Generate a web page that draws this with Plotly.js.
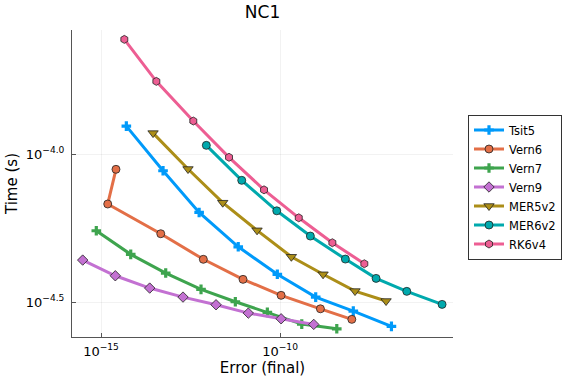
<!DOCTYPE html>
<html>
<head>
<meta charset="utf-8">
<script src="https://cdn.plot.ly/plotly-3.0.1.min.js"></script>
<style>html,body{margin:0;padding:0;background:#fff;}#chart{width:576px;height:384px;}</style>
</head>
<body>
<div id="chart"></div>
<script>
// Series names
const seriesNames = ["Tsit5", "Vern6", "Vern7", "Vern9", "MER5v2", "MER6v2", "RK6v4"];

// Error (final) values per series
const errTsit5  = [5.1e-15, 5.4e-14, 5.5e-13, 6.8e-12, 8.4e-11, 9.9e-10, 1.11e-8, 1.29e-7];
const errVern6  = [2.62e-15, 1.54e-15, 4.66e-14, 7.21e-13, 9.25e-12, 1.07e-10, 1.34e-9, 1.01e-8];
const errVern7  = [7.39e-16, 6.76e-15, 6.41e-14, 6.21e-13, 5.64e-12, 4.42e-11, 4.04e-10, 3.84e-9];
const errVern9  = [3.08e-16, 2.51e-15, 2.29e-14, 1.95e-13, 1.63e-12, 1.30e-11, 1.07e-10, 8.73e-10];
const errMER5v2 = [2.84e-14, 2.69e-13, 2.51e-12, 2.28e-11, 2.07e-10, 1.59e-9, 1.24e-8, 9.14e-8];
const errMER6v2 = [8.73e-13, 8.51e-12, 8.09e-11, 7.02e-10, 6.67e-9, 4.81e-8, 3.46e-7, 3.35e-6];
const errRK6v4  = [4.48e-15, 3.51e-14, 3.78e-13, 3.76e-12, 3.57e-11, 3.33e-10, 2.89e-9, 2.26e-8];

// Time (s) values per series
const timeTsit5  = [1.243e-4, 8.78e-5, 6.35e-5, 4.86e-5, 3.925e-5, 3.287e-5, 2.948e-5, 2.617e-5];
const timeVern6  = [8.88e-5, 6.78e-5, 5.38e-5, 4.41e-5, 3.773e-5, 3.332e-5, 3.001e-5, 2.764e-5];
const timeVern7  = [5.506e-5, 4.583e-5, 3.963e-5, 3.49e-5, 3.17e-5, 2.918e-5, 2.664e-5, 2.569e-5];
const timeVern9  = [4.384e-5, 3.88e-5, 3.526e-5, 3.287e-5, 3.097e-5, 2.902e-5, 2.777e-5, 2.658e-5];
const timeMER5v2 = [1.177e-4, 8.90e-5, 6.85e-5, 5.525e-5, 4.498e-5, 3.925e-5, 3.445e-5, 3.188e-5];
const timeMER6v2 = [1.07e-4, 8.15e-5, 6.43e-5, 5.284e-5, 4.418e-5, 3.802e-5, 3.437e-5, 3.106e-5];
const timeRK6v4  = [2.44e-4, 1.76e-4, 1.293e-4, 9.75e-5, 7.57e-5, 6.09e-5, 5.017e-5, 4.26e-5];

// Tick values / labels
const xTickVals = [1e-15, 1e-10];
const xTickText = ["10<sup>−15</sup>", "10<sup>−10</sup>"];
const yTickVals = [1e-4, Math.pow(10, -4.5)];
const yTickText = ["10<sup>−4.0</sup>", "10<sup>−4.5</sup>"];

const errs = [errTsit5, errVern6, errVern7, errVern9, errMER5v2, errMER6v2, errRK6v4];
const times = [timeTsit5, timeVern6, timeVern7, timeVern9, timeMER5v2, timeMER6v2, timeRK6v4];
const colors = ["#009AFA", "#E36F47", "#3EA44E", "#C371D2", "#AC8E18", "#00A9AD", "#ED5E93"];
const symbols = ["cross", "circle", "cross", "diamond", "triangle-down", "circle", "hexagon"];
const msize = [8, 8, 8, 8, 9, 8, 8];

const traces = seriesNames.map((name, i) => ({
  type: "scatter",
  mode: "lines+markers",
  name: name,
  x: errs[i],
  y: times[i],
  line: {color: colors[i], width: 3},
  marker: {
    symbol: symbols[i],
    size: msize[i],
    color: colors[i],
    line: symbols[i] === "cross" ? {width: 0} : {width: 0.8, color: "#222"}
  },
  cliponaxis: false
}));

const font = "DejaVu Sans, sans-serif";
const layout = {
  width: 576, height: 384,
  margin: {l: 72, r: 123, t: 30, b: 47},
  paper_bgcolor: "#fff", plot_bgcolor: "#fff",
  font: {family: font, color: "#000", size: 11},
  title: {text: "NC1", font: {size: 17, family: font}, x: 0.5, xref: "paper", y: 1 - 12/384, yref: "container", yanchor: "middle"},
  xaxis: {
    type: "log",
    range: [-15.81, -5.17],
    tickvals: xTickVals, ticktext: xTickText,
    ticks: "inside", ticklen: 4, tickcolor: "#555", tickwidth: 1,
    showline: true, linecolor: "#555", linewidth: 1, mirror: false,
    showgrid: true, gridcolor: "rgba(0,0,0,0.1)", gridwidth: 0.5,
    zeroline: false,
    tickfont: {size: 13},
    ticklabelstandoff: 2,
    title: {text: "Error (final)", font: {size: 15}, standoff: 4}
  },
  yaxis: {
    type: "log",
    range: [-4.618, -3.581],
    tickvals: yTickVals, ticktext: yTickText,
    ticks: "inside", ticklen: 4, tickcolor: "#555", tickwidth: 1,
    showline: true, linecolor: "#555", linewidth: 1, mirror: false,
    showgrid: true, gridcolor: "rgba(0,0,0,0.1)", gridwidth: 0.5,
    zeroline: false,
    tickfont: {size: 13},
    ticklabelstandoff: 4,
    title: {text: "Time (s)", font: {size: 15}, standoff: 4}
  },
  legend: {
    x: (468 - 72) / 381, xanchor: "left",
    y: (337 - 187) / 307, yanchor: "middle",
    bgcolor: "#fff", bordercolor: "#333", borderwidth: 1,
    font: {size: 11.5},
    tracegroupgap: 0,
    itemwidth: 30
  },
  showlegend: true
};

Plotly.newPlot("chart", traces, layout, {displayModeBar: false, staticPlot: true});
</script>
</body>
</html>
